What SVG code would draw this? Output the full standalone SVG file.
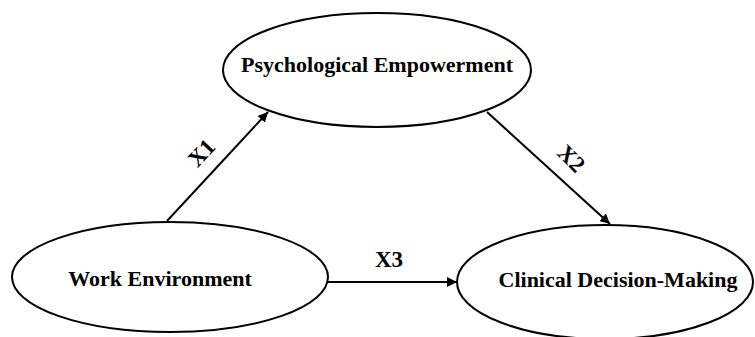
<svg xmlns="http://www.w3.org/2000/svg" width="755" height="337" viewBox="0 0 755 337">
  <style>
    .node { fill: #ffffff; stroke: #000000; stroke-width: 2; }
    .label { font-family: "Liberation Serif", "Times New Roman", serif; font-weight: bold; font-size: 22px; fill: #000000; text-anchor: middle; }
    .path-label { font-family: "Liberation Serif", "Times New Roman", serif; font-weight: bold; font-size: 23px; fill: #000000; text-anchor: middle; }
    .edge { fill: none; stroke: #000000; stroke-width: 2; marker-end: url(#arrow); }
  </style>
  <defs>
    <marker id="arrow" viewBox="0 0 10 10" refX="10" refY="5" markerWidth="5" markerHeight="5" orient="auto" markerUnits="strokeWidth">
      <path d="M0,0 L10,5 L0,10 z" fill="#000000"/>
    </marker>
  </defs>
  <rect width="755" height="337" fill="#ffffff"/>

  <g id="connectors">
    <line class="edge" x1="167" y1="221" x2="268" y2="112"/>
    <line class="edge" x1="487" y1="112" x2="610" y2="224"/>
    <line class="edge" x1="328" y1="282" x2="457" y2="282"/>
    <text class="path-label" transform="translate(207,158) rotate(-47)">X1</text>
    <text class="path-label" transform="translate(566,164) rotate(45)">X2</text>
    <text class="path-label" x="389" y="267">X3</text>
  </g>

  <g id="psychological-empowerment">
    <ellipse class="node" cx="377" cy="70" rx="154" ry="57"/>
    <text class="label" x="377" y="72">Psychological Empowerment</text>
  </g>

  <g id="work-environment">
    <ellipse class="node" cx="170" cy="277" rx="158" ry="55"/>
    <text class="label" x="160" y="286">Work Environment</text>
  </g>

  <g id="clinical-decision-making">
    <ellipse class="node" cx="605" cy="282" rx="148" ry="57"/>
    <text class="label" x="618" y="287">Clinical Decision-Making</text>
  </g>
</svg>
